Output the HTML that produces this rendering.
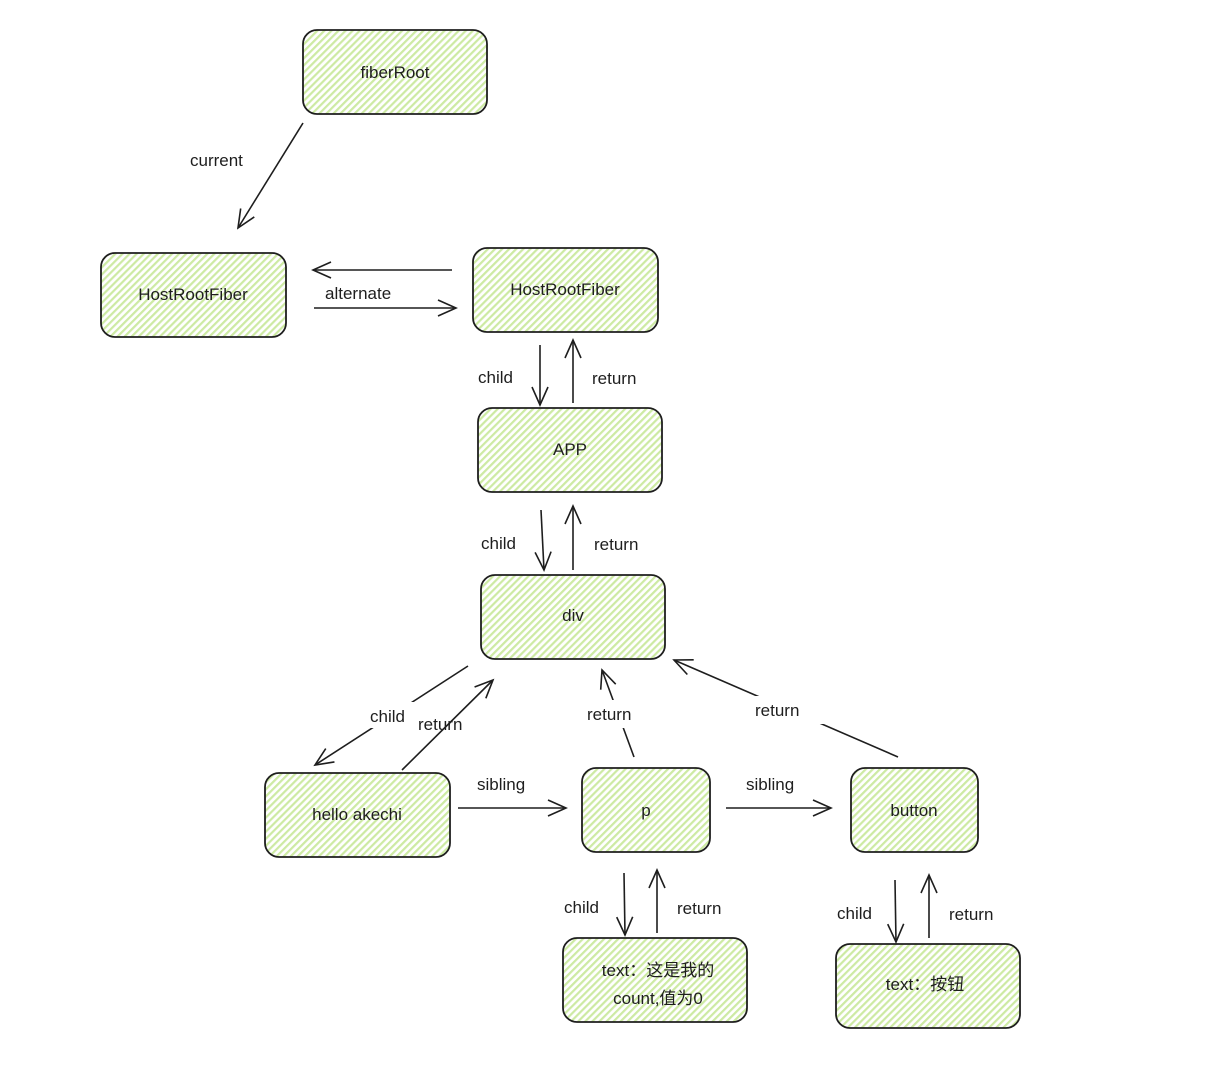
<!DOCTYPE html>
<html><head><meta charset="utf-8"><style>
html,body{margin:0;padding:0;background:#fff;}
svg{display:block;}
text{font-family:"Liberation Sans","Noto Sans CJK SC",sans-serif;font-size:17px;fill:#1e1e1e;}
</style></head><body>
<svg width="1217" height="1066" viewBox="0 0 1217 1066" xmlns="http://www.w3.org/2000/svg">
<defs>
<pattern id="h" width="5" height="5" patternUnits="userSpaceOnUse" patternTransform="rotate(45)">
<rect width="5" height="5" fill="#ffffff"/>
<rect width="2.2" height="5" fill="#cdeaa3"/>
</pattern>
<marker id="a" markerWidth="24" markerHeight="20" refX="20" refY="10" orient="auto" markerUnits="userSpaceOnUse">
<path d="M2,2 L20,10 L2,18" fill="none" stroke="#1e1e1e" stroke-width="1.6"/>
</marker>
</defs>
<g stroke="#1e1e1e" stroke-width="1.8" fill="url(#h)">
<rect x="303" y="30" width="184" height="84" rx="14"/>
<rect x="101" y="253" width="185" height="84" rx="14"/>
<rect x="473" y="248" width="185" height="84" rx="14"/>
<rect x="478" y="408" width="184" height="84" rx="14"/>
<rect x="481" y="575" width="184" height="84" rx="14"/>
<rect x="265" y="773" width="185" height="84" rx="14"/>
<rect x="582" y="768" width="128" height="84" rx="14"/>
<rect x="851" y="768" width="127" height="84" rx="14"/>
<rect x="563" y="938" width="184" height="84" rx="14"/>
<rect x="836" y="944" width="184" height="84" rx="14"/>
</g>
<g text-anchor="middle">
<text x="395" y="78">fiberRoot</text>
<text x="193" y="300">HostRootFiber</text>
<text x="565" y="295">HostRootFiber</text>
<text x="570" y="455">APP</text>
<text x="573" y="621">div</text>
<text x="357" y="820">hello akechi</text>
<text x="646" y="816">p</text>
<text x="914" y="816">button</text>
<text x="658" y="976">text：这是我的</text>
<text x="658" y="1004">count,值为0</text>
<text x="925" y="990">text：按钮</text>
</g>
<g stroke="#1e1e1e" stroke-width="1.6" fill="none" marker-end="url(#a)">
<line x1="303" y1="123" x2="238" y2="228"/>
<line x1="452" y1="270" x2="313" y2="270"/>
<line x1="314" y1="308" x2="456" y2="308"/>
<line x1="540" y1="345" x2="540" y2="405"/>
<line x1="573" y1="403" x2="573" y2="340"/>
<line x1="541" y1="510" x2="544" y2="570"/>
<line x1="573" y1="570" x2="573" y2="506"/>
<line x1="468" y1="666" x2="315" y2="765"/>
<line x1="402" y1="770" x2="493" y2="680"/>
<line x1="634" y1="757" x2="602" y2="670"/>
<line x1="898" y1="757" x2="674" y2="660"/>
<line x1="458" y1="808" x2="566" y2="808"/>
<line x1="726" y1="808" x2="831" y2="808"/>
<line x1="624" y1="873" x2="625" y2="935"/>
<line x1="657" y1="933" x2="657" y2="870"/>
<line x1="895" y1="880" x2="896" y2="942"/>
<line x1="929" y1="938" x2="929" y2="875"/>
</g>
<g fill="#fff" stroke="none">
<rect x="574" y="700" width="80" height="28"/>
<rect x="748" y="696" width="76" height="28"/>
<rect x="320" y="280" width="104" height="24"/>
<rect x="366" y="702" width="48" height="26"/>
</g>
<text x="190" y="166">current</text>
<text x="325" y="299">alternate</text>
<text x="478" y="383">child</text>
<text x="592" y="384">return</text>
<text x="481" y="549">child</text>
<text x="594" y="550">return</text>
<text x="370" y="722">child</text>
<text x="418" y="730">return</text>
<text x="587" y="720">return</text>
<text x="755" y="716">return</text>
<text x="477" y="790">sibling</text>
<text x="746" y="790">sibling</text>
<text x="564" y="913">child</text>
<text x="677" y="914">return</text>
<text x="837" y="919">child</text>
<text x="949" y="920">return</text>
</svg>
</body></html>
